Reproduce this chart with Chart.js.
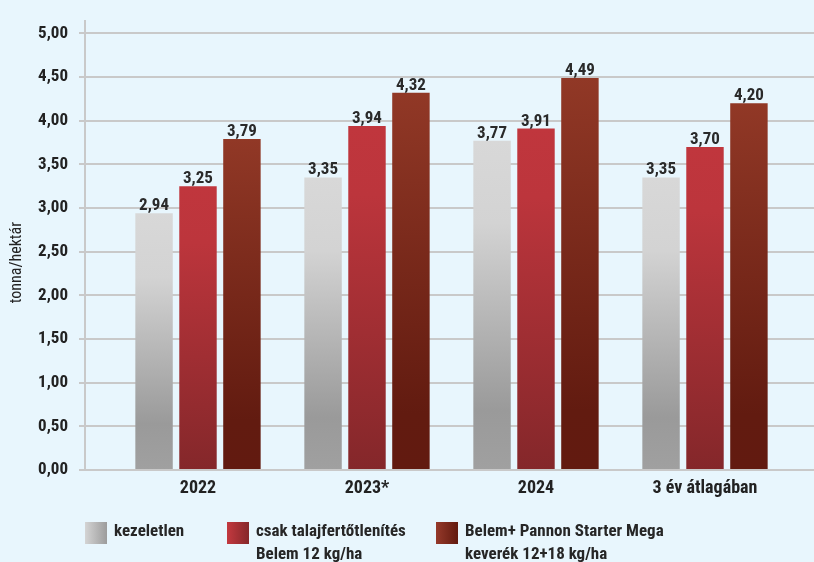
<!DOCTYPE html>
<html>
<head>
<meta charset="utf-8">
<title>Termésátlagok</title>
<script src="https://cdn.jsdelivr.net/npm/chart.js@4.4.1/dist/chart.umd.min.js"></script>
<style>
  html, body { margin: 0; padding: 0; background: #e8f6fd; }
  #wrap { position: relative; width: 814px; height: 562px; overflow: hidden; background: #e8f6fd; }
  #chart { position: absolute; left: 0; top: 0; }
  #legend { position: absolute; left: 0; top: 0; width: 814px; height: 562px; pointer-events: none;
            font-family: 'Liberation Sans Narrow', 'Roboto Condensed', 'Liberation Sans', sans-serif;
            font-size: 17px; font-weight: bold; color: #262626; }
  .item { position: absolute; top: 522px; display: flex; align-items: flex-start; }
  .box { width: 22px; height: 22px; flex: none; }
  .txt { margin-left: 7px; line-height: 23px; margin-top: -3px; white-space: nowrap; }
</style>
</head>
<body>
<div id="wrap">
  <canvas id="chart" width="814" height="562"></canvas>
  <div id="legend"></div>
</div>
<script>
// Yield per treatment, tonna/hektár
const categories = ['2022', '2023*', '2024', '3 év átlagában'];
const seriesNames = [
  ['kezeletlen'],
  ['csak talajfertőtlenítés', 'Belem 12 kg/ha'],
  ['Belem+ Pannon Starter Mega', 'keverék 12+18 kg/ha']
];
const untreated = [2.94, 3.35, 3.77, 3.35];
const soilOnly  = [3.25, 3.94, 3.91, 3.70];
const combined  = [3.79, 4.32, 4.49, 4.20];
const yTicks = [0, 0.5, 1, 1.5, 2, 2.5, 3, 3.5, 4, 4.5, 5];
const yTitle = 'tonna/hektár';

const FONT = "'Liberation Sans Narrow', 'Roboto Condensed', 'Liberation Sans', sans-serif";
const fmt = v => v.toFixed(2).replace('.', ',');

// vertical gradient stops for the bars, horizontal ones for the legend swatches
const barStops = [
  [[0, '#d8d8d8'], [0.25, '#d3d3d3'], [0.82, '#9a9a9a'], [1, '#a0a0a0']],
  [[0, '#c0363d'], [0.2, '#bc353c'], [1, '#84272a']],
  [[0, '#913826'], [0.85, '#621b10'], [1, '#621a10']]
];
const swatchCss = [
  'linear-gradient(to right, #d4d4d4, #9c9c9c)',
  'linear-gradient(to right, #c3393f, #85272a)',
  'linear-gradient(to right, #95392a, #621a0f)'
];
const legendLefts = [85, 227, 436];

function barGradient(stops) {
  return (ctx) => {
    const chart = ctx.chart;
    if (!chart.chartArea || ctx.type !== 'data') return stops[0][1];
    const y = chart.scales.y;
    const top = y.getPixelForValue(ctx.parsed.y);
    const bottom = y.getPixelForValue(0);
    const g = chart.ctx.createLinearGradient(0, top, 0, bottom);
    stops.forEach(([o, c]) => g.addColorStop(o, c));
    return g;
  };
}

const seriesValues = [untreated, soilOnly, combined];
const datasets = seriesValues.map((vals, i) => ({
  label: seriesNames[i].join(' '),
  data: vals.map((v, k) => ({ x: k, y: v })),
  backgroundColor: barGradient(barStops[i]),
  borderWidth: 0,
  categoryPercentage: 0.78,
  barPercentage: 0.852
}));

// value labels above each bar
const valueLabels = {
  id: 'valueLabels',
  afterDatasetsDraw(chart) {
    const c = chart.ctx;
    c.save();
    c.font = 'bold 17px ' + FONT;
    c.fillStyle = '#2a2a2a';
    c.textAlign = 'center';
    c.textBaseline = 'alphabetic';
    chart.data.datasets.forEach((ds, i) => {
      chart.getDatasetMeta(i).data.forEach((el, k) => {
        c.fillText(fmt(ds.data[k].y), el.x, el.y - 3);
      });
    });
    c.restore();
  }
};

// rotated y-axis caption
const axisCaption = {
  id: 'axisCaption',
  afterDraw(chart) {
    const c = chart.ctx;
    const area = chart.chartArea;
    c.save();
    c.translate(17, (area.top + area.bottom) / 2 + 17);
    c.rotate(-Math.PI / 2);
    c.font = '16px ' + FONT;
    c.fillStyle = '#222';
    c.textAlign = 'center';
    c.textBaseline = 'middle';
    c.fillText(yTitle, 0, 0);
    c.restore();
  }
};

const chart = new Chart(document.getElementById('chart'), {
  type: 'bar',
  data: { datasets },
  options: {
    responsive: false,
    animation: false,
    devicePixelRatio: 1,
    layout: { padding: { top: 12, right: 0, bottom: 57, left: 0 } },
    plugins: { legend: { display: false }, tooltip: { enabled: false } },
    scales: {
      x: {
        type: 'linear',
        min: -0.6686,
        max: 3.645,
        offset: false,
        grid: { display: false, drawTicks: false },
        border: { display: false },
        afterBuildTicks: s => { s.ticks = categories.map((_, i) => ({ value: i })); },
        afterFit: s => { s.height = 35; },
        ticks: {
          callback: v => categories[v],
          font: { family: FONT, size: 18, weight: 'bold' },
          color: '#222',
          padding: 8,
          maxRotation: 0,
          autoSkip: false
        }
      },
      y: {
        min: 0,
        max: 5.14,
        afterBuildTicks: s => { s.ticks = yTicks.map(v => ({ value: v })); },
        afterFit: s => { s.width = 85; },
        grid: { color: '#c9c9c9', lineWidth: 2, tickLength: 6, drawTicks: true },
        border: { display: true, color: '#c9c9c9', width: 2 },
        ticks: {
          callback: v => fmt(v),
          font: { family: FONT, size: 17, weight: 'bold' },
          color: '#222',
          padding: 11,
          autoSkip: false
        }
      }
    }
  },
  plugins: [valueLabels, axisCaption]
});

// legend built from the datasets
const legendEl = document.getElementById('legend');
chart.data.datasets.forEach((ds, i) => {
  const item = document.createElement('div');
  item.className = 'item';
  item.style.left = legendLefts[i] + 'px';
  const box = document.createElement('div');
  box.className = 'box';
  box.style.background = swatchCss[i];
  const txt = document.createElement('div');
  txt.className = 'txt';
  seriesNames[i].forEach(line => {
    const d = document.createElement('div');
    d.textContent = line;
    txt.appendChild(d);
  });
  item.appendChild(box);
  item.appendChild(txt);
  legendEl.appendChild(item);
});
</script>
</body>
</html>
